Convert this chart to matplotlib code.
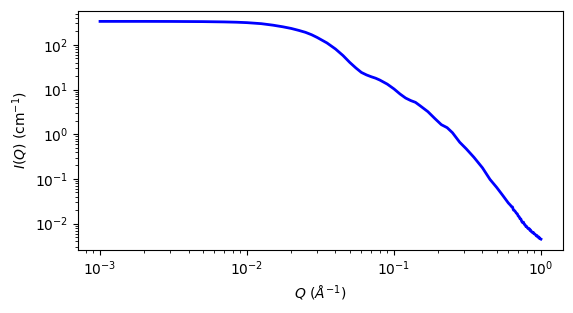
import matplotlib
matplotlib.use("Agg")
import matplotlib.pyplot as plt

q_values = [0.001, 0.002, 0.003, 0.005, 0.007, 0.0085, 0.01, 0.0125, 0.015, 0.0175, 0.02,
            0.0225, 0.025, 0.0275, 0.03, 0.035, 0.04, 0.045, 0.05, 0.055, 0.06,
            0.065, 0.07, 0.075, 0.08, 0.09, 0.1, 0.11, 0.12, 0.13, 0.14,
            0.15, 0.17, 0.19, 0.21, 0.23, 0.25, 0.28, 0.31, 0.35, 0.4,
            0.45, 0.5, 0.55, 0.60, 0.62, 0.63, 0.64, 0.65, 0.66, 0.67,
            0.68, 0.69, 0.70, 0.71, 0.72, 0.73, 0.74, 0.75, 0.76, 0.77,
            0.78, 0.79, 0.80, 0.81, 0.82, 0.83, 0.84, 0.85, 0.86, 0.87,
            0.88, 0.89, 0.90, 0.91, 0.92, 0.93, 0.94, 0.95, 0.96, 0.97,
            0.98, 0.99, 1.00]
intensity = [334, 334, 333, 330, 325, 320, 313, 297, 275, 253, 232,
             210, 190, 168, 146, 110, 80.5, 57.5, 40.4, 30.4, 24.1,
             21.2, 19.3, 17.9, 16.3, 13.2, 10.3, 7.92, 6.44, 5.66, 5.16,
             4.37, 3.20, 2.23, 1.635, 1.40, 1.08, 0.661, 0.472, 0.304, 0.177,
             0.0975, 0.0644, 0.0426, 0.0289, 0.0258, 0.0240, 0.0236, 0.0201, 0.0196, 0.0185,
             0.0171, 0.0166, 0.0148, 0.0143, 0.0129, 0.0127, 0.0112, 0.0105, 0.0108, 0.0096,
             0.0094, 0.0086, 0.0086, 0.0080, 0.0077, 0.0078, 0.0071, 0.0072, 0.0066, 0.0065,
             0.0062, 0.0063, 0.0059, 0.0058, 0.0056, 0.0053, 0.0054, 0.0051, 0.0049, 0.0050,
             0.0046, 0.0046, 0.0045]

fig = plt.figure(figsize=(5.73, 3.13), dpi=100)
ax = fig.add_axes([78 / 573, 1 - 250 / 313, (563 - 78) / 573, (250 - 10.5) / 313])
ax.plot(q_values, intensity, color="blue", linewidth=2)
ax.set_xscale("log")
ax.set_yscale("log")
ax.set_xlabel(r"$Q\ (\AA^{-1})$")
ax.set_ylabel(r"$I(Q)$ (cm$^{-1}$)")
fig.savefig("out.png", dpi=100)
